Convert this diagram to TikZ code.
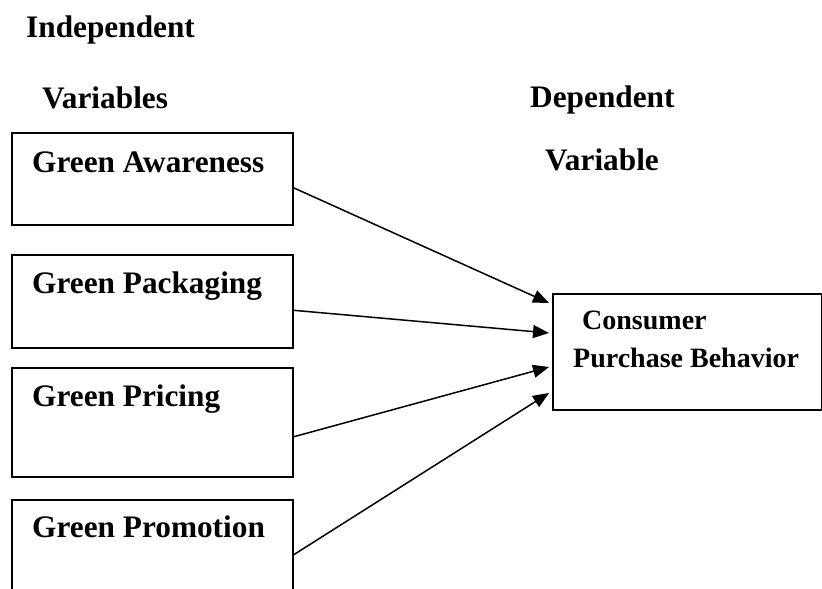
\documentclass[tikz,border=0pt]{standalone}
\usepackage{fontspec}
\setmainfont{Liberation Serif}
\usetikzlibrary{arrows.meta,calc}
\begin{document}
\begin{tikzpicture}[x=1pt,y=-1pt,
  box/.style={draw,line width=1.6pt,rectangle,inner sep=0pt,anchor=north west},
  lbl/.style={anchor=base west,inner sep=0pt,font=\fontsize{31.3}{37}\selectfont\bfseries},
  slbl/.style={anchor=base west,inner sep=0pt,font=\fontsize{28}{34}\selectfont\bfseries},
  conn/.style={line width=1.5pt,-{Triangle[length=16pt,width=13pt]}}]
\useasboundingbox (0,0) rectangle (822,589);
\clip (0,0) rectangle (822,589);
% headings
\node[lbl] (indep) at (26,37) {Independent};
\node[lbl] (vars) at (42,108) {Variables};
\node[lbl] (dep) at (530,107) {Dependent};
\node[lbl] (var) at (545,170) {Variable};
% boxes
\node[box,minimum width=281pt,minimum height=92pt] (ga) at (11,132) {};
\node[box,minimum width=281pt,minimum height=93pt] (gk) at (11,254) {};
\node[box,minimum width=281pt,minimum height=109pt] (gr) at (11,367) {};
\node[box,minimum width=281pt,minimum height=109pt] (gm) at (11,499) {};
\node[box,minimum width=269pt,minimum height=116pt] (cpb) at (552,293) {};
% box texts
\node[lbl] (tga) at (32,172) {Green Awareness};
\node[lbl] (tgk) at (32,293) {Green Packaging};
\node[lbl] (tgr) at (32,406) {Green Pricing};
\node[lbl] (tgm) at (32,537) {Green Promotion};
\node[slbl] (tc1) at (582,329) {Consumer};
\node[slbl] (tc2) at (573,367) {Purchase Behavior};
% connectors
\draw[conn] ($(ga.east)+(0,9)$) -- ($(cpb.north west)+(-3,10)$);
\draw[conn] ($(gk.east)+(0,9)$) -- ($(cpb.north west)+(-3,40)$);
\draw[conn] ($(gr.east)+(0,14.5)$) -- ($(cpb.north west)+(-3,74)$);
\draw[conn] ($(gm.east)+(0,0.5)$) -- ($(cpb.north west)+(-3,100)$);
\end{tikzpicture}
\end{document}
